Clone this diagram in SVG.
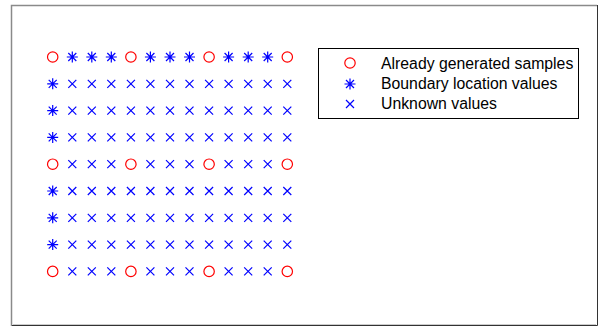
<svg xmlns="http://www.w3.org/2000/svg" width="604" height="331" viewBox="0 0 604 331">
<defs>
<style>
.c{fill:none;stroke:#ff0000;stroke-width:1.2}
.s{fill:none;stroke:#0000ff;stroke-width:1.2}
.x{fill:none;stroke:#0000ff;stroke-width:1.2}
.t{font-family:"Liberation Sans",Arial,sans-serif;font-size:15.8px;fill:#000}
</style>
<g id="mO"><circle cx="0" cy="0" r="5.2" class="c"/></g>
<g id="mS"><path class="s" d="M0,-5.5V5.5M-5.5,0H5.5M-4,-4L4,4M-4,4L4,-4"/></g>
<g id="mX"><path class="x" d="M-4,-4L4,4M-4,4L4,-4"/></g>
</defs>
<rect x="0" y="0" width="604" height="331" fill="#fff"/>
<g id="frame">
<path d="M11.5,326V5.5H597" fill="none" stroke="#8a8a8a" stroke-width="1.5"/>
<path d="M12,325.5H597.5V5" fill="none" stroke="#333" stroke-width="1"/>
<path d="M13,324.5H596" fill="none" stroke="#ccc" stroke-width="1"/>
</g>
<g id="grid">
<g transform="translate(0,57)"><use href="#mO" x="52.7"/><use href="#mS" x="72.3"/><use href="#mS" x="91.8"/><use href="#mS" x="111.3"/><use href="#mO" x="130.9"/><use href="#mS" x="150.4"/><use href="#mS" x="170"/><use href="#mS" x="189.5"/><use href="#mO" x="209.1"/><use href="#mS" x="228.6"/><use href="#mS" x="248.2"/><use href="#mS" x="267.7"/><use href="#mO" x="287.3"/></g>
<g transform="translate(0,83.8)"><use href="#mS" x="52.7"/><use href="#mX" x="72.3"/><use href="#mX" x="91.8"/><use href="#mX" x="111.3"/><use href="#mX" x="130.9"/><use href="#mX" x="150.4"/><use href="#mX" x="170"/><use href="#mX" x="189.5"/><use href="#mX" x="209.1"/><use href="#mX" x="228.6"/><use href="#mX" x="248.2"/><use href="#mX" x="267.7"/><use href="#mX" x="287.3"/></g>
<g transform="translate(0,110.6)"><use href="#mS" x="52.7"/><use href="#mX" x="72.3"/><use href="#mX" x="91.8"/><use href="#mX" x="111.3"/><use href="#mX" x="130.9"/><use href="#mX" x="150.4"/><use href="#mX" x="170"/><use href="#mX" x="189.5"/><use href="#mX" x="209.1"/><use href="#mX" x="228.6"/><use href="#mX" x="248.2"/><use href="#mX" x="267.7"/><use href="#mX" x="287.3"/></g>
<g transform="translate(0,137.4)"><use href="#mS" x="52.7"/><use href="#mX" x="72.3"/><use href="#mX" x="91.8"/><use href="#mX" x="111.3"/><use href="#mX" x="130.9"/><use href="#mX" x="150.4"/><use href="#mX" x="170"/><use href="#mX" x="189.5"/><use href="#mX" x="209.1"/><use href="#mX" x="228.6"/><use href="#mX" x="248.2"/><use href="#mX" x="267.7"/><use href="#mX" x="287.3"/></g>
<g transform="translate(0,164.2)"><use href="#mO" x="52.7"/><use href="#mX" x="72.3"/><use href="#mX" x="91.8"/><use href="#mX" x="111.3"/><use href="#mO" x="130.9"/><use href="#mX" x="150.4"/><use href="#mX" x="170"/><use href="#mX" x="189.5"/><use href="#mO" x="209.1"/><use href="#mX" x="228.6"/><use href="#mX" x="248.2"/><use href="#mX" x="267.7"/><use href="#mO" x="287.3"/></g>
<g transform="translate(0,191)"><use href="#mS" x="52.7"/><use href="#mX" x="72.3"/><use href="#mX" x="91.8"/><use href="#mX" x="111.3"/><use href="#mX" x="130.9"/><use href="#mX" x="150.4"/><use href="#mX" x="170"/><use href="#mX" x="189.5"/><use href="#mX" x="209.1"/><use href="#mX" x="228.6"/><use href="#mX" x="248.2"/><use href="#mX" x="267.7"/><use href="#mX" x="287.3"/></g>
<g transform="translate(0,217.8)"><use href="#mS" x="52.7"/><use href="#mX" x="72.3"/><use href="#mX" x="91.8"/><use href="#mX" x="111.3"/><use href="#mX" x="130.9"/><use href="#mX" x="150.4"/><use href="#mX" x="170"/><use href="#mX" x="189.5"/><use href="#mX" x="209.1"/><use href="#mX" x="228.6"/><use href="#mX" x="248.2"/><use href="#mX" x="267.7"/><use href="#mX" x="287.3"/></g>
<g transform="translate(0,244.6)"><use href="#mS" x="52.7"/><use href="#mX" x="72.3"/><use href="#mX" x="91.8"/><use href="#mX" x="111.3"/><use href="#mX" x="130.9"/><use href="#mX" x="150.4"/><use href="#mX" x="170"/><use href="#mX" x="189.5"/><use href="#mX" x="209.1"/><use href="#mX" x="228.6"/><use href="#mX" x="248.2"/><use href="#mX" x="267.7"/><use href="#mX" x="287.3"/></g>
<g transform="translate(0,271.4)"><use href="#mO" x="52.7"/><use href="#mX" x="72.3"/><use href="#mX" x="91.8"/><use href="#mX" x="111.3"/><use href="#mO" x="130.9"/><use href="#mX" x="150.4"/><use href="#mX" x="170"/><use href="#mX" x="189.5"/><use href="#mO" x="209.1"/><use href="#mX" x="228.6"/><use href="#mX" x="248.2"/><use href="#mX" x="267.7"/><use href="#mO" x="287.3"/></g>
</g>
<g id="legend">
<rect x="318.5" y="48.5" width="260" height="70" fill="#fff" stroke="#000" stroke-width="1"/>
<use href="#mO" x="350" y="63"/>
<use href="#mS" x="350" y="84"/>
<use href="#mX" x="350" y="104"/>
<text class="t" x="381" y="69">Already generated samples</text>
<text class="t" x="381" y="89">Boundary location values</text>
<text class="t" x="381" y="109">Unknown values</text>
</g>
</svg>
